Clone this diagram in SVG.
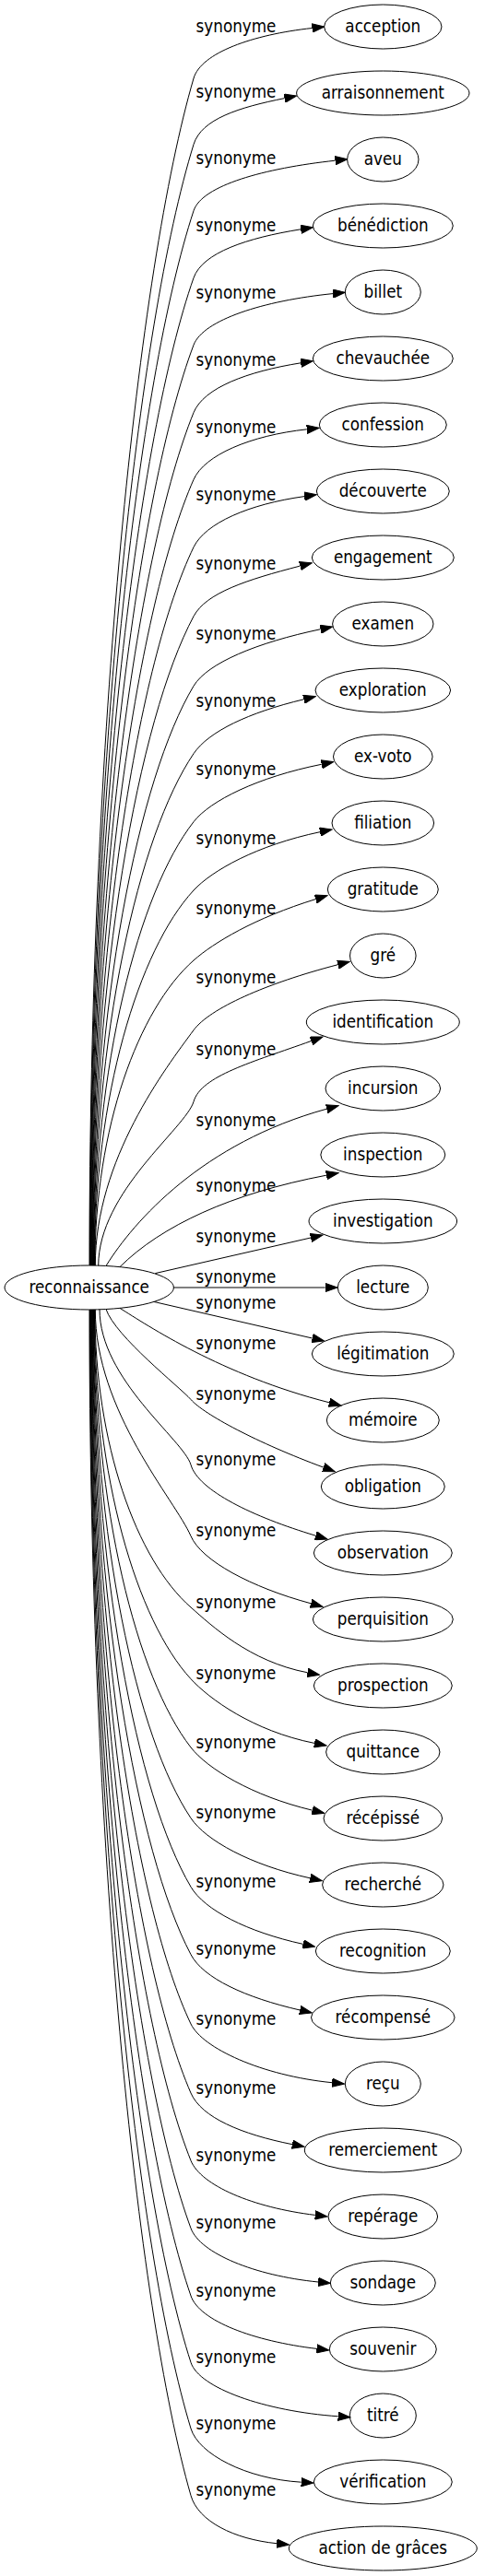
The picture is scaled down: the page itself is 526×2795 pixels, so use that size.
<svg xmlns="http://www.w3.org/2000/svg" width="526" height="2795" viewBox="0 0 526 2795">
<style>
text{font-family:"DejaVu Sans Condensed","DejaVu Sans",sans-serif;font-stretch:condensed;font-size:18.67px;fill:#000;text-anchor:middle}
.node ellipse{fill:none;stroke:#000;stroke-width:1}
.edge path{fill:none;stroke:#000;stroke-width:1;marker-end:url(#ah)}
</style>
<defs>
<marker id="ah" markerUnits="userSpaceOnUse" markerWidth="14" markerHeight="10" refX="0" refY="5" orient="auto"><path d="M0,0.3 L13.3,5 L0,9.7 Z" fill="#000" stroke="#000" stroke-width="1"/></marker>
</defs>
<rect width="526" height="2795" fill="#fff"/>
<g id="edges">
<g id="e0" class="edge"><path d="M97,1373 C97,793.4 150,291.1 210,85 C218.1,57.2 274.3,37.5 338.5,30.5"/><text x="256" y="34.6">synonyme</text></g>
<g id="e1" class="edge"><path d="M97.5,1373 C97.5,825.7 150,351.3 210,156.7 C218.5,129 259.4,116.5 308.7,106.6"/><text x="256" y="106.3">synonyme</text></g>
<g id="e2" class="edge"><path d="M97.9,1373 C97.9,858.1 150,411.8 210,228.7 C219,201.1 286.8,182.6 363.5,174.2"/><text x="256" y="178.3">synonyme</text></g>
<g id="e3" class="edge"><path d="M98.4,1373 C98.4,890.8 150,472.9 210,301.5 C219.6,274.1 268.1,258.1 326.2,248.8"/><text x="256" y="251.1">synonyme</text></g>
<g id="e4" class="edge"><path d="M98.8,1373 C98.8,923.6 150,534.1 210,374.3 C220.2,347.2 285.6,326.2 361.1,318.6"/><text x="256" y="323.9">synonyme</text></g>
<g id="e5" class="edge"><path d="M99.3,1373 C99.3,956.6 150,595.7 210,447.7 C220.9,420.8 268.1,403.1 326.2,393.8"/><text x="256" y="397.3">synonyme</text></g>
<g id="e6" class="edge"><path d="M99.7,1373 C99.7,989.3 150,656.7 210,520.3 C221.7,493.8 271.4,472.5 332.8,465.8"/><text x="256" y="469.9">synonyme</text></g>
<g id="e7" class="edge"><path d="M100.2,1373 C100.2,1022.3 150,718.4 210,593.7 C222.6,567.6 270,547 330.1,538.6"/><text x="256" y="543.3">synonyme</text></g>
<g id="e8" class="edge"><path d="M100.6,1373 C100.6,1056.1 150,781.4 210,668.7 C223.6,643.1 267.7,629.1 325.4,614.1"/><text x="256" y="618.3">synonyme</text></g>
<g id="e9" class="edge"><path d="M101.1,1373 C101.1,1090.1 150,844.9 210,744.3 C224.9,719.4 278.8,697.2 347.7,682.7"/><text x="256" y="693.9">synonyme</text></g>
<g id="e10" class="edge"><path d="M101.5,1373 C101.5,1123.1 150,906.5 210,817.7 C226.2,793.7 269.7,773.1 329.4,758.8"/><text x="256" y="767.3">synonyme</text></g>
<g id="e11" class="edge"><path d="M102,1373 C102,1156.4 150,968.7 210,891.7 C227.8,868.8 279.4,843.2 348.7,829.3"/><text x="256" y="841.3">synonyme</text></g>
<g id="e12" class="edge"><path d="M102.4,1373 C102.4,1189.8 150,1031.1 210,966 C229.7,944.7 278.5,917.1 347,902.7"/><text x="256" y="915.6">synonyme</text></g>
<g id="e13" class="edge"><path d="M102.9,1373 C102.9,1224 150,1095 210,1042 C231.7,1022.8 276.1,996.1 342.3,975.6"/><text x="256" y="991.6">synonyme</text></g>
<g id="e14" class="edge"><path d="M103.3,1373 C103.3,1258.1 180,1158.5 210,1117.7 C227.2,1094.3 288.2,1067 366.4,1046.7"/><text x="256" y="1067.3">synonyme</text></g>
<g id="e15" class="edge"><path d="M106.7,1373.3 C106.7,1293.3 201.6,1223.7 210,1195.3 C218,1167.3 273.8,1152.4 337.5,1129.5"/><text x="256" y="1144.9">synonyme</text></g>
<g id="e16" class="edge"><path d="M115,1373.5 C145,1325 220,1240 354.3,1203.2"/><text x="256" y="1222.3">synonyme</text></g>
<g id="e17" class="edge"><path d="M130,1374.6 C175,1330 250,1295 353.9,1275.2"/><text x="256" y="1293.1">synonyme</text></g>
<g id="e18" class="edge"><path d="M168.3,1381.6 C224.5,1368.7 280.8,1355.9 337,1343"/><text x="256" y="1347.8">synonyme</text></g>
<g id="e19" class="edge"><path d="M188.4,1397 C243,1397 298,1397 352.7,1397"/><text x="256" y="1391.9">synonyme</text></g>
<g id="e20" class="edge"><path d="M166.7,1412.4 C224,1425.6 281.4,1438.8 338.7,1452"/><text x="256" y="1419.6">synonyme</text></g>
<g id="e21" class="edge"><path d="M130,1419.4 C160,1438 240,1492 357.1,1521.8"/><text x="256" y="1463.6">synonyme</text></g>
<g id="e22" class="edge"><path d="M115,1420.5 C125,1450 195,1505 207,1518.5 C221,1534.5 278.9,1565.5 350.8,1592.1"/><text x="256" y="1519.1">synonyme</text></g>
<g id="e23" class="edge"><path d="M108,1420.6 C108,1496.5 199.1,1562.3 207,1589.3 C215,1617.3 274.7,1645.9 342.3,1666.2"/><text x="256" y="1589.9">synonyme</text></g>
<g id="e24" class="edge"><path d="M103.3,1421 C103.3,1531.6 190,1627.4 207,1666.7 C218.5,1693.3 272.1,1722.2 337.2,1739.8"/><text x="256" y="1667.3">synonyme</text></g>
<g id="e25" class="edge"><path d="M102.9,1421 C102.9,1566.4 148,1692.3 207,1744 C228.8,1763.1 270.3,1802.8 333.6,1814.8"/><text x="256" y="1744.6">synonyme</text></g>
<g id="e26" class="edge"><path d="M102.4,1421 C102.4,1601.3 148,1757.6 207,1821.7 C226.6,1843 274,1878 341,1891.4"/><text x="256" y="1822.3">synonyme</text></g>
<g id="e27" class="edge"><path d="M102,1421 C102,1634.8 148,1820 207,1896 C224.8,1918.9 272.9,1948.4 338.8,1964.2"/><text x="256" y="1896.6">synonyme</text></g>
<g id="e28" class="edge"><path d="M101.5,1421 C101.5,1669.3 148,1884.4 207,1972.7 C223.1,1996.8 271.6,2023.6 336.3,2037.8"/><text x="256" y="1973.3">synonyme</text></g>
<g id="e29" class="edge"><path d="M101.1,1421 C101.1,1702.8 148,1947.1 207,2047.3 C221.7,2072.3 267.8,2096 328.7,2109.4"/><text x="256" y="2047.9">synonyme</text></g>
<g id="e30" class="edge"><path d="M100.6,1421 C100.6,1735.9 148,2008.7 207,2120.7 C220.5,2146.4 266.1,2167.4 325.3,2181"/><text x="256" y="2121.3">synonyme</text></g>
<g id="e31" class="edge"><path d="M100.2,1421 C100.2,1769.8 148,2072 207,2196 C219.5,2222.2 283.6,2252 360.1,2259.7"/><text x="256" y="2196.6">synonyme</text></g>
<g id="e32" class="edge"><path d="M99.7,1421 C99.7,1803.5 148,2135 207,2271 C218.5,2297.6 262,2315.7 317,2326.7"/><text x="256" y="2271.6">synonyme</text></g>
<g id="e33" class="edge"><path d="M99.3,1421 C99.3,1836.5 148,2196.6 207,2344.3 C217.8,2371.2 274.4,2395.3 341.8,2403.4"/><text x="256" y="2344.9">synonyme</text></g>
<g id="e34" class="edge"><path d="M98.8,1421 C98.8,1869.5 148,2258.2 207,2417.7 C217.1,2444.9 276.1,2469.1 345.1,2476"/><text x="256" y="2418.3">synonyme</text></g>
<g id="e35" class="edge"><path d="M98.4,1421 C98.4,1902.5 148,2319.8 207,2491 C216.4,2518.4 275.3,2540.2 343.5,2548.4"/><text x="256" y="2491.6">synonyme</text></g>
<g id="e36" class="edge"><path d="M97.9,1421 C97.9,1935 148,2380.5 207,2563.3 C215.9,2590.9 286.8,2616.2 366.7,2621.8"/><text x="256" y="2563.9">synonyme</text></g>
<g id="e37" class="edge"><path d="M97.5,1421 C97.5,1967.3 148,2440.8 207,2635 C215.4,2662.7 266.8,2689.6 326.7,2693.2"/><text x="256" y="2635.6">synonyme</text></g>
<g id="e38" class="edge"><path d="M97,1421 C97,2000 148,2501.8 207,2707.7 C215,2735.6 253.6,2755 300.1,2759.7"/><text x="256" y="2708.3">synonyme</text></g>
</g>
<g id="nodes">
<g id="n-reconnaissance" class="node"><ellipse cx="96.7" cy="1397" rx="91.7" ry="24"/><text x="96.7" y="1402.6">reconnaissance</text></g>
<g id="n0" class="node"><ellipse cx="415.3" cy="29" rx="63.7" ry="24"/><text x="415.3" y="34.6">acception</text></g>
<g id="n1" class="node"><ellipse cx="415.3" cy="101" rx="93.7" ry="24"/><text x="415.3" y="106.6">arraisonnement</text></g>
<g id="n2" class="node"><ellipse cx="415.3" cy="173" rx="38.7" ry="24"/><text x="415.3" y="178.6">aveu</text></g>
<g id="n3" class="node"><ellipse cx="415.3" cy="245" rx="76" ry="24"/><text x="415.3" y="250.6">bénédiction</text></g>
<g id="n4" class="node"><ellipse cx="415.3" cy="317" rx="41" ry="24"/><text x="415.3" y="322.6">billet</text></g>
<g id="n5" class="node"><ellipse cx="415.3" cy="389" rx="76" ry="24"/><text x="415.3" y="394.6">chevauchée</text></g>
<g id="n6" class="node"><ellipse cx="415.3" cy="461" rx="69" ry="24"/><text x="415.3" y="466.6">confession</text></g>
<g id="n7" class="node"><ellipse cx="415.3" cy="533" rx="72" ry="24"/><text x="415.3" y="538.6">découverte</text></g>
<g id="n8" class="node"><ellipse cx="415.3" cy="605" rx="77" ry="24"/><text x="415.3" y="610.6">engagement</text></g>
<g id="n9" class="node"><ellipse cx="415.3" cy="677" rx="54.7" ry="24"/><text x="415.3" y="682.6">examen</text></g>
<g id="n10" class="node"><ellipse cx="415.3" cy="749" rx="73.3" ry="24"/><text x="415.3" y="754.6">exploration</text></g>
<g id="n11" class="node"><ellipse cx="415.3" cy="821" rx="53.8" ry="24"/><text x="415.3" y="826.6">ex-voto</text></g>
<g id="n12" class="node"><ellipse cx="415.3" cy="893" rx="55.3" ry="24"/><text x="415.3" y="898.6">filiation</text></g>
<g id="n13" class="node"><ellipse cx="415.3" cy="965" rx="60" ry="24"/><text x="415.3" y="970.6">gratitude</text></g>
<g id="n14" class="node"><ellipse cx="415.3" cy="1037" rx="35.8" ry="24"/><text x="415.3" y="1042.6">gré</text></g>
<g id="n15" class="node"><ellipse cx="415.3" cy="1109" rx="83" ry="24"/><text x="415.3" y="1114.6">identification</text></g>
<g id="n16" class="node"><ellipse cx="415.3" cy="1181" rx="62.3" ry="24"/><text x="415.3" y="1186.6">incursion</text></g>
<g id="n17" class="node"><ellipse cx="415.3" cy="1253" rx="67.5" ry="24"/><text x="415.3" y="1258.6">inspection</text></g>
<g id="n18" class="node"><ellipse cx="415.3" cy="1325" rx="80.3" ry="24"/><text x="415.3" y="1330.6">investigation</text></g>
<g id="n19" class="node"><ellipse cx="415.3" cy="1397" rx="49" ry="24"/><text x="415.3" y="1402.6">lecture</text></g>
<g id="n20" class="node"><ellipse cx="415.3" cy="1469" rx="77" ry="24"/><text x="415.3" y="1474.6">légitimation</text></g>
<g id="n21" class="node"><ellipse cx="415.3" cy="1541" rx="61" ry="24"/><text x="415.3" y="1546.6">mémoire</text></g>
<g id="n22" class="node"><ellipse cx="415.3" cy="1613" rx="67" ry="24"/><text x="415.3" y="1618.6">obligation</text></g>
<g id="n23" class="node"><ellipse cx="415.3" cy="1685" rx="75" ry="24"/><text x="415.3" y="1690.6">observation</text></g>
<g id="n24" class="node"><ellipse cx="415.3" cy="1757" rx="76" ry="24"/><text x="415.3" y="1762.6">perquisition</text></g>
<g id="n25" class="node"><ellipse cx="415.3" cy="1829" rx="75" ry="24"/><text x="415.3" y="1834.6">prospection</text></g>
<g id="n26" class="node"><ellipse cx="415.3" cy="1901" rx="61.7" ry="24"/><text x="415.3" y="1906.6">quittance</text></g>
<g id="n27" class="node"><ellipse cx="415.3" cy="1973" rx="64.3" ry="24"/><text x="415.3" y="1978.6">récépissé</text></g>
<g id="n28" class="node"><ellipse cx="415.3" cy="2045" rx="65.7" ry="24"/><text x="415.3" y="2050.6">recherché</text></g>
<g id="n29" class="node"><ellipse cx="415.3" cy="2117" rx="73" ry="24"/><text x="415.3" y="2122.6">recognition</text></g>
<g id="n30" class="node"><ellipse cx="415.3" cy="2189" rx="77.8" ry="24"/><text x="415.3" y="2194.6">récompensé</text></g>
<g id="n31" class="node"><ellipse cx="415.3" cy="2261" rx="41" ry="24"/><text x="415.3" y="2266.6">reçu</text></g>
<g id="n32" class="node"><ellipse cx="415.3" cy="2333" rx="85" ry="24"/><text x="415.3" y="2338.6">remerciement</text></g>
<g id="n33" class="node"><ellipse cx="415.3" cy="2405" rx="59.3" ry="24"/><text x="415.3" y="2410.6">repérage</text></g>
<g id="n34" class="node"><ellipse cx="415.3" cy="2477" rx="57" ry="24"/><text x="415.3" y="2482.6">sondage</text></g>
<g id="n35" class="node"><ellipse cx="415.3" cy="2549" rx="58" ry="24"/><text x="415.3" y="2554.6">souvenir</text></g>
<g id="n36" class="node"><ellipse cx="415.3" cy="2621" rx="36" ry="24"/><text x="415.3" y="2626.6">titré</text></g>
<g id="n37" class="node"><ellipse cx="415.3" cy="2693" rx="75" ry="24"/><text x="415.3" y="2698.6">vérification</text></g>
<g id="n38" class="node"><ellipse cx="415.3" cy="2765" rx="102" ry="24"/><text x="415.3" y="2770.6">action de grâces</text></g>
</g>
</svg>
